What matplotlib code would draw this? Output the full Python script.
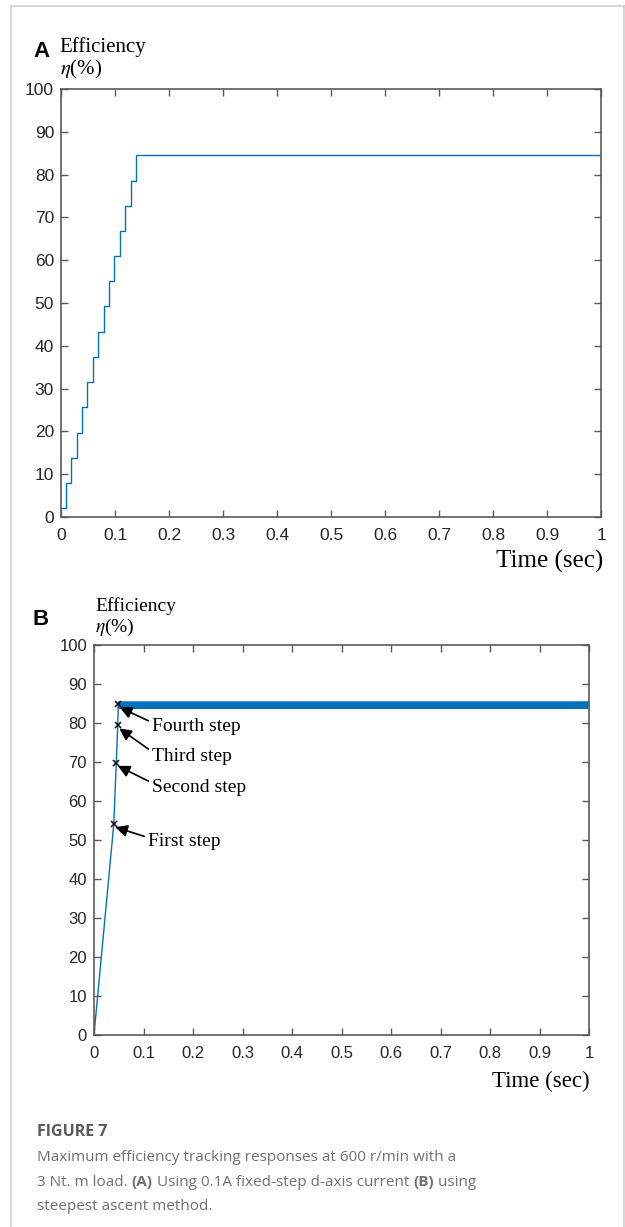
"""
Maximum efficiency tracking: fixed-step d-axis current (A) vs steepest ascent (B)
"""
import numpy as np
import matplotlib
matplotlib.use('Agg')
import matplotlib.pyplot as plt
from matplotlib.lines import Line2D

plt.rcParams['mathtext.fontset'] = 'stix'

# --- panel A: fixed 0.1A step, efficiency staircase ---
t_steps_A = [0.0, 0.009, 0.019, 0.029, 0.039, 0.049, 0.059, 0.069, 0.079,
             0.089, 0.099, 0.109, 0.119, 0.129, 0.139, 1.0]
eff_steps_A = [2.0, 7.9, 13.8, 19.7, 25.6, 31.5, 37.4, 43.3, 49.2,
               55.1, 60.9, 66.8, 72.7, 78.6, 84.5, 84.5]

# --- panel B: steepest ascent, four search steps then chatter at max ---
t_search_B = [0.0, 0.040, 0.045, 0.048, 0.049]
eff_search_B = [0.0, 54.1, 69.8, 79.4, 84.8]
step_names = ['First step', 'Second step', 'Third step', 'Fourth step']
chatter_levels_B = [85.4, 83.8]
chatter_dt = 0.001
chatter_start, chatter_end = 0.050, 1.0

xticks = [0, 0.1, 0.2, 0.3, 0.4, 0.5, 0.6, 0.7, 0.8, 0.9, 1]
xticklabels = ['0', '0.1', '0.2', '0.3', '0.4', '0.5', '0.6', '0.7', '0.8', '0.9', '1']
yticks = [0, 10, 20, 30, 40, 50, 60, 70, 80, 90, 100]

BLUE = '#0072BD'
AXC = '#5a5a5a'
W, H = 625, 1227

fig = plt.figure(figsize=(W / 100, H / 100), dpi=100)


def px(x, y):
    return x / W, 1 - y / H


def style_axes(ax, fs):
    ax.set_xlim(0, 1)
    ax.set_ylim(0, 100)
    ax.set_xticks(xticks)
    ax.set_xticklabels(xticklabels)
    ax.set_yticks(yticks)
    ax.tick_params(direction='in', top=True, right=True, length=5,
                   width=1.0, color=AXC, labelsize=fs, labelcolor='#262626')
    ax.tick_params(axis='x', pad=8)
    ax.tick_params(axis='y', pad=5)
    for s in ax.spines.values():
        s.set_color(AXC)
        s.set_linewidth(1.2)
    for lab in ax.get_xticklabels() + ax.get_yticklabels():
        lab.set_family('Liberation Sans')


# panel A
axA = fig.add_axes([61 / W, 1 - 517 / H, 540 / W, 428 / H])
axA.step(t_steps_A, eff_steps_A, where='post', color=BLUE, lw=1.0)
style_axes(axA, 12.5)

# panel B
axB = fig.add_axes([94 / W, 1 - 1035 / H, 495 / W, 390 / H])
t_chat = np.arange(chatter_start, chatter_end + chatter_dt / 2, chatter_dt)
eff_chat = np.resize(chatter_levels_B, t_chat.size)
axB.plot(np.concatenate([t_search_B, t_chat]),
         np.concatenate([eff_search_B, eff_chat]), color=BLUE, lw=1.0)
axB.plot(t_search_B[1:], eff_search_B[1:], 'x', color='black', ms=4.5, mew=1.1)
style_axes(axB, 12)

# arrows pointing at each step
text_pos = [(0.110, 49.5), (0.118, 63.5), (0.118, 71.5), (0.118, 79.0)]
for (tx, ty), xm, ym, name in zip(text_pos, t_search_B[1:], eff_search_B[1:], step_names):
    axB.annotate(name, xy=(xm + 0.003, ym - 0.8), xytext=(tx, ty),
                 family='Liberation Serif', fontsize=14, color='black',
                 va='center', ha='left',
                 arrowprops=dict(arrowstyle='-|>', color='black', lw=1.2,
                                 mutation_scale=18, shrinkA=1, shrinkB=0,
                                 relpos=(0, 0.75)))

# labels around the axes
serif = 'Liberation Serif'
fig.text(*px(33, 57), 'A', fontsize=16, fontweight='bold', family='Liberation Sans')
fig.text(*px(59, 52), 'Efficiency', fontsize=15, family=serif)
fig.text(*px(60, 74), r'$\eta$(%)', fontsize=15, family=serif)
fig.text(*px(603, 568), 'Time (sec)', fontsize=18, family=serif, ha='right')

fig.text(*px(32, 625), 'B', fontsize=16, fontweight='bold', family='Liberation Sans')
fig.text(*px(95, 611), 'Efficiency', fontsize=14, family=serif)
fig.text(*px(95, 632), r'$\eta$(%)', fontsize=14, family=serif)
fig.text(*px(590, 1087), 'Time (sec)', fontsize=16.5, family=serif, ha='right')

# page frame
frame = dict(color='#cfcfcf', lw=1.2, transform=fig.transFigure)
fig.add_artist(Line2D([11 / W, 11 / W], [0, 1 - 6 / H], **frame))
fig.add_artist(Line2D([11 / W, 623.5 / W], [1 - 6 / H, 1 - 6 / H], **frame))
fig.add_artist(Line2D([623.5 / W, 623.5 / W], [0, 1 - 6 / H], **frame))

# caption with bold panel references
cap_font = 'Open Sans'
cap_size = 11
cap_color = '#707070'
fig.text(*px(37, 1136), 'FIGURE 7', fontsize=11.5, fontweight='bold',
         family=cap_font, color='#5a5a5a')

renderer = fig.canvas.get_renderer()


def rich_line(x, y, parts):
    x0 = x
    for txt, bold in parts:
        t = fig.text(*px(x0, y), txt, fontsize=cap_size, family=cap_font,
                     color=cap_color, fontweight='bold' if bold else 'normal')
        bb = t.get_window_extent(renderer=renderer)
        x0 += bb.width


rich_line(37, 1161, [('Maximum efficiency tracking responses at 600 r/min with a', False)])
rich_line(37, 1186, [('3 Nt. m load. ', False), ('(A)', True),
                     (' Using 0.1A fixed-step d-axis current ', False),
                     ('(B)', True), (' using', False)])
rich_line(37, 1210, [('steepest ascent method.', False)])

fig.savefig('out.png', dpi=100)
